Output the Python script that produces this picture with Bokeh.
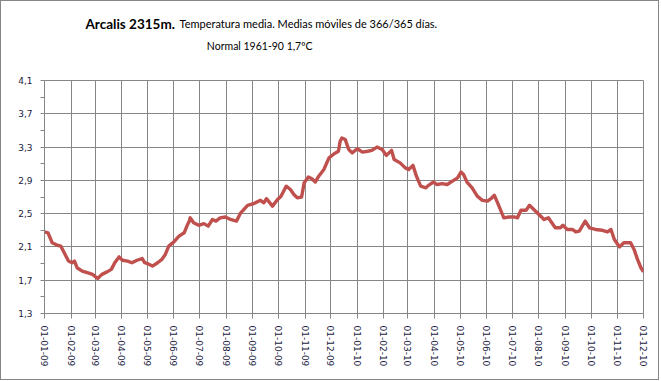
import pandas as pd
from bokeh.plotting import figure
from bokeh.layouts import column
from bokeh.models import Label, FixedTicker
from bokeh.embed import file_html
from bokeh.resources import INLINE

dates = [
    "2009-01-01", "2009-01-05", "2009-01-10", "2009-01-16", "2009-01-20", "2009-01-24", "2009-01-29",
    "2009-02-02", "2009-02-05", "2009-02-08", "2009-02-14", "2009-02-20", "2009-02-26",
    "2009-03-04", "2009-03-09", "2009-03-15", "2009-03-20", "2009-03-24", "2009-03-29",
    "2009-04-02", "2009-04-08", "2009-04-13", "2009-04-19", "2009-04-25", "2009-04-28",
    "2009-05-01", "2009-05-07", "2009-05-13", "2009-05-18", "2009-05-22", "2009-05-26",
    "2009-06-01", "2009-06-07", "2009-06-13", "2009-06-17", "2009-06-19", "2009-06-20", "2009-06-24", "2009-06-30",
    "2009-07-06", "2009-07-11", "2009-07-16", "2009-07-20", "2009-07-25", "2009-07-31",
    "2009-08-06", "2009-08-13", "2009-08-18", "2009-08-26",
    "2009-09-02", "2009-09-10", "2009-09-14", "2009-09-17", "2009-09-24", "2009-09-30",
    "2009-10-04", "2009-10-10", "2009-10-15", "2009-10-19", "2009-10-23", "2009-10-28", "2009-10-31",
    "2009-11-05", "2009-11-09", "2009-11-13", "2009-11-17", "2009-11-23", "2009-11-29",
    "2009-12-05", "2009-12-10", "2009-12-12", "2009-12-14", "2009-12-18", "2009-12-22", "2009-12-26",
    "2010-01-01", "2010-01-07", "2010-01-13", "2010-01-18", "2010-01-24", "2010-01-30",
    "2010-02-04", "2010-02-10", "2010-02-13", "2010-02-20", "2010-02-26",
    "2010-03-02", "2010-03-07", "2010-03-11", "2010-03-16", "2010-03-22", "2010-03-25", "2010-03-31",
    "2010-04-04", "2010-04-10", "2010-04-16", "2010-04-22", "2010-04-28",
    "2010-05-02", "2010-05-05", "2010-05-09", "2010-05-15", "2010-05-21", "2010-05-27",
    "2010-06-02", "2010-06-06", "2010-06-10", "2010-06-15", "2010-06-21", "2010-06-27",
    "2010-07-03", "2010-07-07", "2010-07-11", "2010-07-17", "2010-07-21", "2010-07-26",
    "2010-08-01", "2010-08-07", "2010-08-12", "2010-08-20", "2010-08-26", "2010-08-29",
    "2010-09-03", "2010-09-09", "2010-09-13", "2010-09-17", "2010-09-24", "2010-09-29",
    "2010-10-06", "2010-10-14", "2010-10-20", "2010-10-24", "2010-10-28",
    "2010-11-03", "2010-11-08", "2010-11-16", "2010-11-20", "2010-11-24", "2010-11-28", "2010-12-01",
]
temps = [
    2.28, 2.27, 2.15, 2.12, 2.11, 2.03, 1.93,
    1.91, 1.93, 1.85, 1.81, 1.79, 1.77,
    1.72, 1.77, 1.80, 1.83, 1.91, 1.98,
    1.94, 1.93, 1.91, 1.94, 1.96, 1.91,
    1.90, 1.87, 1.91, 1.95, 2.01, 2.11,
    2.16, 2.23, 2.27, 2.37, 2.41, 2.45, 2.39, 2.36,
    2.38, 2.35, 2.43, 2.41, 2.45, 2.46,
    2.43, 2.41, 2.51, 2.60,
    2.62, 2.66, 2.63, 2.68, 2.59, 2.67,
    2.71, 2.83, 2.79, 2.73, 2.69, 2.70, 2.87,
    2.94, 2.92, 2.88, 2.95, 3.03, 3.17,
    3.22, 3.25, 3.37, 3.41, 3.39, 3.27, 3.23,
    3.28, 3.24, 3.25, 3.26, 3.30, 3.27,
    3.20, 3.26, 3.15, 3.11, 3.05,
    3.03, 3.08, 2.95, 2.83, 2.81, 2.84, 2.88,
    2.85, 2.86, 2.85, 2.89, 2.93,
    3.00, 2.97, 2.88, 2.81, 2.71, 2.66,
    2.65, 2.68, 2.72, 2.60, 2.45, 2.46,
    2.46, 2.45, 2.54, 2.54, 2.60, 2.55,
    2.49, 2.43, 2.45, 2.33, 2.33, 2.36,
    2.31, 2.31, 2.28, 2.29, 2.41, 2.33,
    2.31, 2.30, 2.28, 2.31, 2.19,
    2.10, 2.15, 2.15, 2.07, 1.95, 1.85, 1.80,
]
tick_dates = pd.date_range("2009-01-01", "2010-12-01", freq="MS")
tick_labels = [d.strftime("%d-%m-%y") for d in tick_dates]
y_ticks = [1.3, 1.7, 2.1, 2.5, 2.9, 3.3, 3.7, 4.1]
y_minor = [1.5, 1.9, 2.3, 2.7, 3.1, 3.5, 3.9]
y_labels = ["1,3", "1,7", "2,1", "2,5", "2,9", "3,3", "3,7", "4,1"]
title_main = "Arcalis 2315m."
title_rest = "Temperatura media. Medias móviles de 366/365  días."
subtitle = "Normal 1961-90  1,7ºC"

x = pd.to_datetime(dates)
tick_ms = [d.value // 10**6 for d in tick_dates]

GRID = "#868686"
W = 657
TH = 71

# title strip (its frame is aligned with the main frame: x 44..643 on the page)
tf = figure(width=W, height=TH, x_range=(44, 643), y_range=(TH, 0),
            output_backend="svg", toolbar_location=None, min_border=0)
tf.axis.visible = False
tf.grid.visible = False
tf.outline_line_color = None
tf.add_layout(Label(x=85, y=22, text=title_main, text_font="Lato", text_font_style="bold",
                    text_font_size="13.5px", text_color="#000000", text_baseline="alphabetic"))
tf.add_layout(Label(x=179, y=22, text=title_rest, text_font="Lato",
                    text_font_size="11px", text_color="#000000", text_baseline="alphabetic"))
tf.add_layout(Label(x=260.5, y=44.5, text=subtitle, text_font="Lato", text_align="center",
                    text_font_size="10.5px", text_color="#000000", text_baseline="alphabetic"))

p = figure(
    x_axis_type="datetime", output_backend="svg", toolbar_location=None,
    frame_width=599, frame_height=233,
    min_border_left=43, min_border_right=15, min_border_top=79 - TH, min_border_bottom=66,
    x_range=(tick_dates[0], tick_dates[-1]), y_range=(1.3, 4.1),
)
p.line(x, temps, line_color="#C0504D", line_width=3.4, line_join="round")

p.xaxis.ticker = FixedTicker(ticks=tick_ms)
p.xaxis.major_label_overrides = {t: l for t, l in zip(tick_ms, tick_labels)}
p.xaxis.major_label_orientation = "vertical"
p.yaxis.ticker = FixedTicker(ticks=y_ticks, minor_ticks=y_minor)
p.yaxis.major_label_overrides = {t: l for t, l in zip(y_ticks, y_labels)}

for ax in (p.xaxis[0], p.yaxis[0]):
    ax.axis_line_color = GRID
    ax.major_tick_line_color = GRID
    ax.minor_tick_line_color = GRID
    ax.major_tick_in = 0
    ax.minor_tick_in = 0
    ax.major_label_text_font = "DejaVu Sans"
    ax.major_label_text_font_size = "9px"
    ax.major_label_text_color = "#1a1a40"
p.xaxis.major_tick_out = 5
p.xaxis.minor_tick_out = 0
p.xaxis.major_label_standoff = 7
p.yaxis.major_tick_out = 4
p.yaxis.minor_tick_out = 4
p.yaxis.major_label_standoff = 8

p.xgrid.ticker = FixedTicker(ticks=tick_ms)
p.ygrid.ticker = FixedTicker(ticks=y_ticks)
for g in (p.xgrid[0], p.ygrid[0]):
    g.grid_line_color = GRID
    g.grid_line_width = 1
p.outline_line_color = GRID

layout = column(tf, p, spacing=0, styles={"border": "1px solid #868686"})

open("out.html", "w").write(file_html(layout, INLINE))
